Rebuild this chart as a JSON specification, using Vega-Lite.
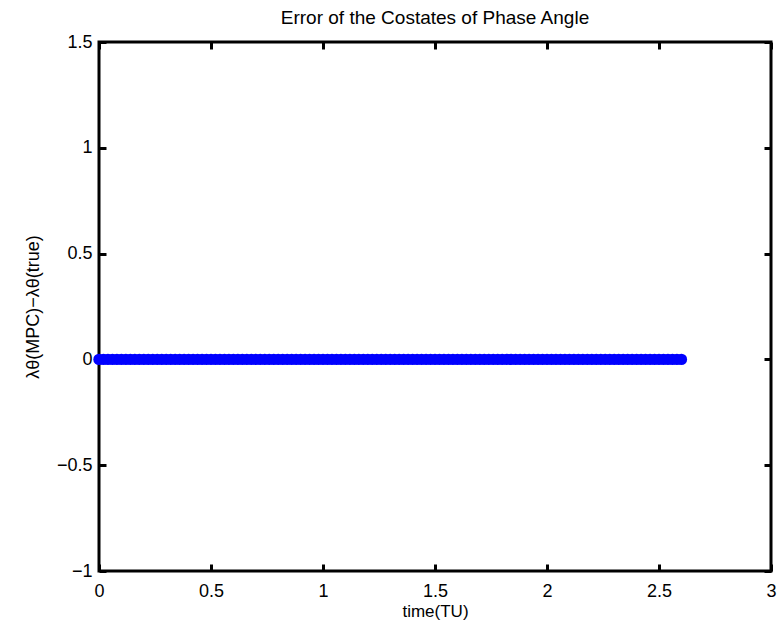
{
  "$schema": "https://vega.github.io/schema/vega-lite/v6.json",
  "autosize": {"type": "none"},
  "width": 672,
  "height": 529,
  "padding": {"left": 99, "top": 42, "right": 7, "bottom": 59},
  "background": "white",
  "config": {
    "font": "Liberation Sans",
    "view": {"stroke": "black", "strokeWidth": 3},
    "axis": {"grid": false, "domain": false, "tickColor": "black", "tickWidth": 3, "tickSize": -7, "labelColor": "black", "labelFontSize": 18, "titleFontSize": 17, "titleFontWeight": "normal", "titleColor": "black", "labelFont": "Liberation Sans", "titleFont": "Liberation Sans", "format": "~g"}
  },
  "title": {"text": "Error of the Costates of Phase Angle", "fontSize": 19, "fontWeight": "normal", "font": "Liberation Sans", "color": "black", "offset": 5},
  "data": {"values": [
    {"t":0.00,"e":0},{"t":0.02,"e":0},{"t":0.04,"e":0},{"t":0.06,"e":0},{"t":0.08,"e":0},{"t":0.10,"e":0},{"t":0.12,"e":0},{"t":0.14,"e":0},{"t":0.16,"e":0},{"t":0.18,"e":0},
    {"t":0.20,"e":0},{"t":0.22,"e":0},{"t":0.24,"e":0},{"t":0.26,"e":0},{"t":0.28,"e":0},{"t":0.30,"e":0},{"t":0.32,"e":0},{"t":0.34,"e":0},{"t":0.36,"e":0},{"t":0.38,"e":0},
    {"t":0.40,"e":0},{"t":0.42,"e":0},{"t":0.44,"e":0},{"t":0.46,"e":0},{"t":0.48,"e":0},{"t":0.50,"e":0},{"t":0.52,"e":0},{"t":0.54,"e":0},{"t":0.56,"e":0},{"t":0.58,"e":0},
    {"t":0.60,"e":0},{"t":0.62,"e":0},{"t":0.64,"e":0},{"t":0.66,"e":0},{"t":0.68,"e":0},{"t":0.70,"e":0},{"t":0.72,"e":0},{"t":0.74,"e":0},{"t":0.76,"e":0},{"t":0.78,"e":0},
    {"t":0.80,"e":0},{"t":0.82,"e":0},{"t":0.84,"e":0},{"t":0.86,"e":0},{"t":0.88,"e":0},{"t":0.90,"e":0},{"t":0.92,"e":0},{"t":0.94,"e":0},{"t":0.96,"e":0},{"t":0.98,"e":0},
    {"t":1.00,"e":0},{"t":1.02,"e":0},{"t":1.04,"e":0},{"t":1.06,"e":0},{"t":1.08,"e":0},{"t":1.10,"e":0},{"t":1.12,"e":0},{"t":1.14,"e":0},{"t":1.16,"e":0},{"t":1.18,"e":0},
    {"t":1.20,"e":0},{"t":1.22,"e":0},{"t":1.24,"e":0},{"t":1.26,"e":0},{"t":1.28,"e":0},{"t":1.30,"e":0},{"t":1.32,"e":0},{"t":1.34,"e":0},{"t":1.36,"e":0},{"t":1.38,"e":0},
    {"t":1.40,"e":0},{"t":1.42,"e":0},{"t":1.44,"e":0},{"t":1.46,"e":0},{"t":1.48,"e":0},{"t":1.50,"e":0},{"t":1.52,"e":0},{"t":1.54,"e":0},{"t":1.56,"e":0},{"t":1.58,"e":0},
    {"t":1.60,"e":0},{"t":1.62,"e":0},{"t":1.64,"e":0},{"t":1.66,"e":0},{"t":1.68,"e":0},{"t":1.70,"e":0},{"t":1.72,"e":0},{"t":1.74,"e":0},{"t":1.76,"e":0},{"t":1.78,"e":0},
    {"t":1.80,"e":0},{"t":1.82,"e":0},{"t":1.84,"e":0},{"t":1.86,"e":0},{"t":1.88,"e":0},{"t":1.90,"e":0},{"t":1.92,"e":0},{"t":1.94,"e":0},{"t":1.96,"e":0},{"t":1.98,"e":0},
    {"t":2.00,"e":0},{"t":2.02,"e":0},{"t":2.04,"e":0},{"t":2.06,"e":0},{"t":2.08,"e":0},{"t":2.10,"e":0},{"t":2.12,"e":0},{"t":2.14,"e":0},{"t":2.16,"e":0},{"t":2.18,"e":0},
    {"t":2.20,"e":0},{"t":2.22,"e":0},{"t":2.24,"e":0},{"t":2.26,"e":0},{"t":2.28,"e":0},{"t":2.30,"e":0},{"t":2.32,"e":0},{"t":2.34,"e":0},{"t":2.36,"e":0},{"t":2.38,"e":0},
    {"t":2.40,"e":0},{"t":2.42,"e":0},{"t":2.44,"e":0},{"t":2.46,"e":0},{"t":2.48,"e":0},{"t":2.50,"e":0},{"t":2.52,"e":0},{"t":2.54,"e":0},{"t":2.56,"e":0},{"t":2.58,"e":0},
    {"t":2.60,"e":0}
  ]},
  "layer": [
    {
      "mark": {"type": "point", "filled": true, "color": "#0000FF", "opacity": 1, "size": 130, "clip": false},
      "encoding": {
        "x": {"field": "t", "type": "quantitative", "scale": {"domain": [0, 3], "nice": false, "zero": false}, "axis": {"orient": "bottom", "title": "time(TU)", "values": [0, 0.5, 1, 1.5, 2, 2.5, 3], "labelPadding": 18, "titlePadding": 3, "labelFlush": false}},
        "y": {"field": "e", "type": "quantitative", "scale": {"domain": [-1, 1.5], "nice": false, "zero": false}, "axis": {"orient": "left", "title": "λθ(MPC)−λθ(true)", "titleFontSize": 18, "values": [-1, -0.5, 0, 0.5, 1, 1.5], "labelPadding": 14, "titlePadding": 14, "labelFlush": false}}
      }
    },
    {
      "mark": {"type": "point", "opacity": 0},
      "encoding": {
        "x": {"field": "t", "type": "quantitative", "axis": {"orient": "top", "title": null, "labels": false, "values": [0, 0.5, 1, 1.5, 2, 2.5, 3]}},
        "y": {"field": "e", "type": "quantitative", "axis": {"orient": "right", "title": null, "labels": false, "values": [-1, -0.5, 0, 0.5, 1, 1.5]}}
      }
    }
  ],
  "resolve": {"axis": {"x": "independent", "y": "independent"}}
}
